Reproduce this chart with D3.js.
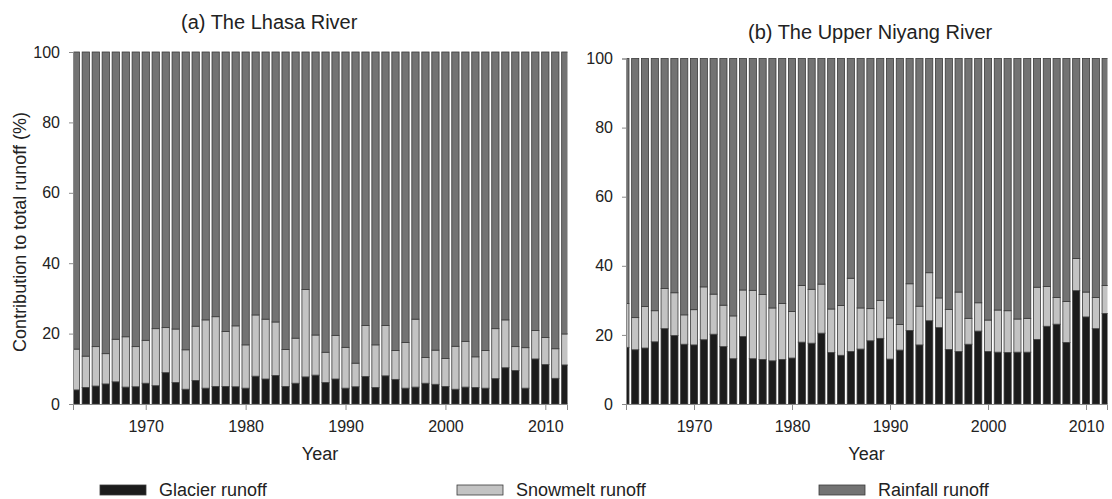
<!DOCTYPE html>
<html>
<head>
<meta charset="utf-8">
<script src="https://cdn.jsdelivr.net/npm/d3@7"></script>
<style>
  body { margin: 0; background: #fff; }
  svg { display: block; font-family: "Liberation Sans", Arial, sans-serif; }
</style>
</head>
<body>
<script>
const years = d3.range(1963, 2013);

// (a) Lhasa River, % of total runoff
const lhasaGlacier = [4.0, 4.7, 5.1, 5.7, 6.3, 4.8, 4.9, 5.9, 5.2, 8.9,
    6.1, 4.2, 6.7, 4.5, 5.0, 5.0, 4.9, 4.5, 7.9, 7.1,
    8.1, 5.0, 5.9, 7.7, 8.2, 6.1, 7.1, 4.5, 4.9, 7.8,
    4.7, 8.0, 7.0, 4.5, 4.8, 5.9, 5.6, 5.0, 4.2, 4.8,
    4.7, 4.5, 7.2, 10.3, 9.5, 4.5, 12.8, 11.2, 7.3, 11.1];
const lhasaSnow = [11.6, 8.9, 11.2, 8.6, 12.1, 14.3, 11.4, 12.2, 16.2, 12.8,
    15.2, 11.2, 15.4, 19.4, 19.8, 15.6, 17.3, 12.3, 17.4, 17.0,
    15.2, 10.5, 12.8, 24.8, 11.4, 8.6, 12.4, 11.6, 6.7, 14.5,
    12.1, 14.3, 8.2, 13.0, 19.3, 7.3, 9.7, 7.9, 12.2, 13.0,
    8.7, 10.7, 14.2, 13.6, 6.8, 11.5, 8.1, 7.7, 8.4, 8.8];

// (b) Upper Niyang River
const niyangGlacier = [16.4, 15.7, 16.2, 18.0, 21.8, 19.8, 17.3, 17.1, 18.6, 20.2,
    16.6, 13.1, 19.5, 13.1, 12.9, 12.5, 12.9, 13.3, 17.9, 17.6,
    20.5, 14.9, 14.1, 15.2, 15.9, 18.3, 19.0, 13.0, 15.6, 21.3,
    17.1, 24.1, 22.1, 15.8, 15.2, 17.3, 21.1, 15.2, 15.0, 14.9,
    15.0, 15.0, 18.7, 22.5, 23.1, 17.8, 32.8, 25.2, 21.8, 26.2];
const niyangSnow = [12.7, 9.3, 12.0, 9.0, 11.6, 12.4, 8.5, 10.2, 15.3, 11.6,
    12.0, 12.4, 13.5, 19.8, 18.8, 15.3, 16.2, 13.5, 16.4, 15.6,
    14.2, 12.6, 14.4, 21.2, 11.9, 9.3, 11.0, 11.9, 7.4, 13.5,
    11.2, 13.9, 8.6, 11.6, 17.2, 7.5, 8.2, 9.1, 12.2, 12.1,
    9.6, 9.8, 15.1, 11.5, 7.7, 11.9, 9.3, 7.2, 9.0, 8.1];

const seriesNames = ["Glacier runoff", "Snowmelt runoff", "Rainfall runoff"];
const colors = ["#1c1c1c", "#c3c3c3", "#737373"];
const yTicks = [0, 20, 40, 60, 80, 100];
const xTicks = [1970, 1980, 1990, 2000, 2010];

const width = 1112, height = 499;
const svg = d3.select("body").append("svg")
    .attr("width", width)
    .attr("height", height);

function rows(glacier, snow) {
    return years.map((yr, i) => ({
        year: yr,
        g: glacier[i],
        s: snow[i],
        r: 100 - glacier[i] - snow[i]
    }));
}

const panels = [
    { id: "a", title: "(a) The Lhasa River", titleX: 181, titleY: 29, data: rows(lhasaGlacier, lhasaSnow),
      left: 73, right: 567, top: 52, xDom: [1962.72, 2012.17], yLabel: true },
    { id: "b", title: "(b) The Upper Niyang River", titleX: 748, titleY: 39, data: rows(niyangGlacier, niyangSnow),
      left: 626, right: 1107, top: 58.5, xDom: [1963.06, 2012.14], yLabel: false }
];
const bottom = 404;
const barW = 0.73; // in years

const stack = d3.stack().keys(["g", "s", "r"]);

panels.forEach(p => {
    const x = d3.scaleLinear().domain(p.xDom).range([p.left, p.right]);
    const y = d3.scaleLinear().domain([0, 100]).range([bottom, p.top]);

    svg.append("defs").append("clipPath")
        .attr("id", "clip-" + p.id)
        .append("rect")
        .attr("x", p.left + 0.5)
        .attr("y", p.top - 2)
        .attr("width", p.right - p.left)
        .attr("height", bottom - p.top + 2);

    const g = svg.append("g").attr("clip-path", `url(#clip-${p.id})`);

    const layers = stack(p.data);
    layers.forEach((layer, li) => {
        g.selectAll(null)
            .data(layer)
            .enter()
            .append("rect")
            .attr("x", d => x(d.data.year - barW / 2))
            .attr("width", x(barW) - x(0))
            .attr("y", d => y(d[1]))
            .attr("height", d => y(d[0]) - y(d[1]))
            .attr("fill", colors[li])
            .attr("stroke", "#3a3a3a")
            .attr("stroke-width", 0.8);
    });

    const yAxis = svg.append("g")
        .attr("transform", `translate(${p.left},0)`)
        .call(d3.axisLeft(y).tickValues(yTicks).tickSize(4).tickPadding(9));
    const xAxis = svg.append("g")
        .attr("transform", `translate(0,${bottom})`)
        .call(d3.axisBottom(x).tickValues(xTicks).tickFormat(d3.format("d")).tickSize(6).tickPadding(11));

    [yAxis, xAxis].forEach(ax => {
        ax.select(".domain").attr("stroke", "#8a8a8a");
        ax.selectAll(".tick line").attr("stroke", "#8a8a8a");
        ax.selectAll(".tick text")
            .attr("fill", "#222")
            .style("font-size", "16px")
            .style("font-family", "'Liberation Sans', Arial, sans-serif");
    });

    svg.append("text")
        .attr("x", p.titleX)
        .attr("y", p.titleY)
        .attr("fill", "#222")
        .style("font-size", "20px")
        .text(p.title);

    svg.append("text")
        .attr("x", (p.left + p.right) / 2)
        .attr("y", 460)
        .attr("text-anchor", "middle")
        .attr("fill", "#222")
        .style("font-size", "18px")
        .text("Year");

    if (p.yLabel) {
        svg.append("text")
            .attr("transform", `translate(26,${(95 + 369) / 2}) rotate(-90)`)
            .attr("text-anchor", "middle")
            .attr("fill", "#222")
            .style("font-size", "18px")
            .text("Contribution to total runoff (%)");
    }
});

// legend
const legendX = [100, 457, 819];
const legend = svg.selectAll(".legend")
    .data(seriesNames)
    .enter()
    .append("g")
    .attr("class", "legend")
    .attr("transform", (d, i) => `translate(${legendX[i]},485)`);

legend.append("rect")
    .attr("width", 46)
    .attr("height", 10)
    .attr("fill", (d, i) => colors[i])
    .attr("stroke", "#3a3a3a")
    .attr("stroke-width", 0.8);

legend.append("text")
    .attr("x", 59)
    .attr("y", 11)
    .attr("fill", "#222")
    .style("font-size", "18px")
    .text(d => d);
</script>
</body>
</html>
